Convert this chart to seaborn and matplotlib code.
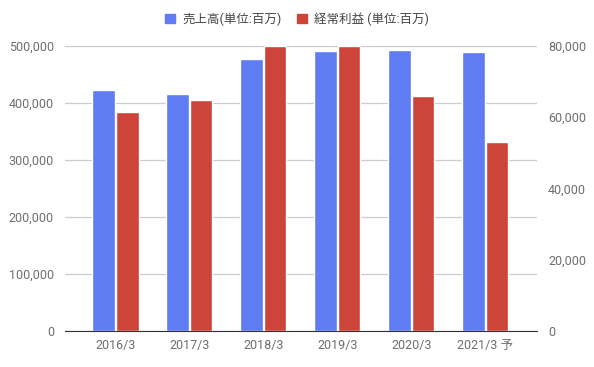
import pandas as pd
import numpy as np
import matplotlib
matplotlib.use('Agg')
import matplotlib.pyplot as plt
import seaborn as sns
from matplotlib.ticker import FuncFormatter
from matplotlib.patches import Patch

years = ['2016/3', '2017/3', '2018/3', '2019/3', '2020/3', '2021/3 予']
sales = [422800, 415800, 477200, 491200, 493000, 489500]
profit = [61500, 64800, 80000, 80000, 66000, 53000]
s_sales = '売上高(単位:百万)'
s_profit = '経常利益 (単位:百万)'
colors = ['#5f7cf2', '#cc443a']

sns.set_style('white')
plt.rcParams['font.family'] = ['Roboto', 'Noto Sans CJK JP', 'DejaVu Sans']

n = len(years)
df1 = pd.DataFrame({'year': years * 2, 'series': [s_sales] * n + [s_profit] * n,
                    'value': sales + [np.nan] * n})
df2 = pd.DataFrame({'year': years * 2, 'series': [s_sales] * n + [s_profit] * n,
                    'value': [np.nan] * n + profit})

fig = plt.figure(figsize=(5.94, 3.67), dpi=100)
ax = fig.add_axes([65 / 594, 36 / 367, 472 / 594, 285 / 367])
ax2 = ax.twinx()

sns.barplot(data=df1, x='year', y='value', hue='series', palette=colors,
            width=0.64, gap=0.04, ax=ax, legend=False, saturation=1)
sns.barplot(data=df2, x='year', y='value', hue='series', palette=colors,
            width=0.64, gap=0.04, ax=ax2, legend=False, saturation=1)

ax.set_xlim(-0.68, 5.70)
ax.set_ylim(0, 500000)
ax2.set_ylim(0, 80000)
ax.set_yticks(range(0, 500001, 100000))
ax2.set_yticks(range(0, 80001, 20000))
fmt = FuncFormatter(lambda v, p: f'{int(v):,}')
ax.yaxis.set_major_formatter(fmt)
ax2.yaxis.set_major_formatter(fmt)
ax.grid(axis='y', color='#cccccc', linewidth=0.9)
ax.set_axisbelow(True)
ax.set_xlabel('')
ax.set_ylabel('')
ax2.set_ylabel('')
for a in (ax, ax2):
    for sp in a.spines.values():
        sp.set_visible(False)
    a.tick_params(length=0, labelsize=9, colors='#6e6e6e', pad=8)
ax.spines['bottom'].set_visible(True)
ax.spines['bottom'].set_color('#333333')
ax.tick_params(axis='x', pad=6)

handles = [Patch(color=colors[0], label=s_sales), Patch(color=colors[1], label=s_profit)]
fig.legend(handles=handles, loc='center', bbox_to_anchor=(0.5, 1 - 19 / 367), ncol=2,
           frameon=False, fontsize=9, handlelength=0.8, handleheight=0.8,
           columnspacing=1.2, handletextpad=0.6, labelcolor='#444444')

fig.savefig('out.png', dpi=100)
